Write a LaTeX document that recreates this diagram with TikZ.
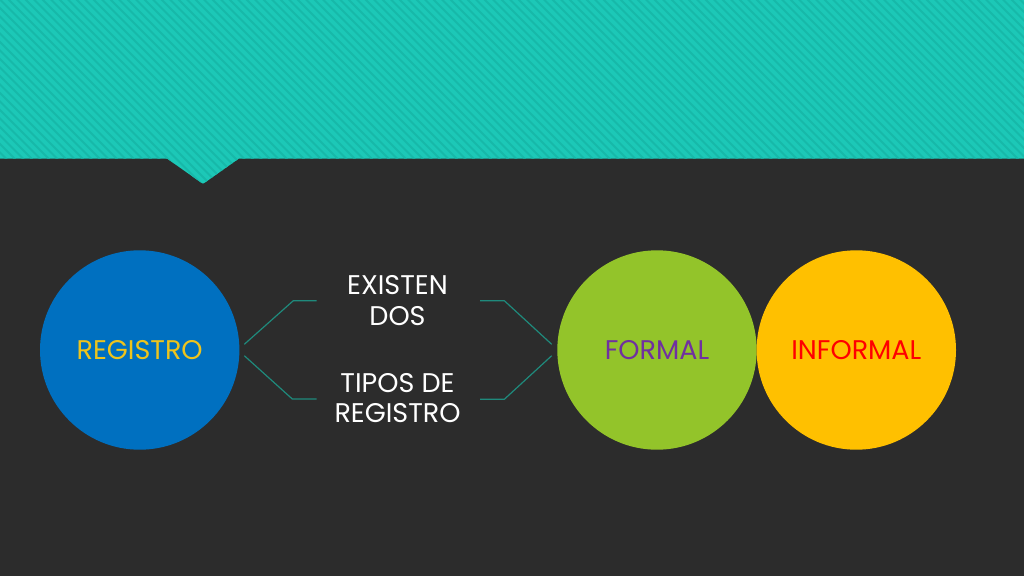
\documentclass[tikz,border=0pt]{standalone}
\usepackage{fontspec}
\setmainfont{Poppins}
\definecolor{bgc}{HTML}{2C2C2C}
\definecolor{tealL}{HTML}{1CC8B7}
\definecolor{tealD}{HTML}{17B9A9}
\definecolor{linec}{HTML}{1F8A7C}
\definecolor{blueC}{HTML}{0070C0}
\definecolor{greenC}{HTML}{93C42A}
\definecolor{yellowC}{HTML}{FFC000}
\definecolor{goldT}{HTML}{EEC41C}
\definecolor{purpT}{HTML}{7030A0}
\definecolor{redT}{HTML}{FF0000}
\begin{document}
\begin{tikzpicture}[x=1pt,y=-1pt,
  bubble/.style={circle,minimum size=199.4pt,inner sep=0pt,font=\fontsize{27}{30}\selectfont},
  midtext/.style={align=center,text=white,font=\fontsize{27}{30.7}\selectfont},
  conn/.style={draw=linec,line width=1.2pt}]
\useasboundingbox (0,0) rectangle (1024,576);
\fill[bgc] (0,0) rectangle (1024,576);
% top band with pointer
\begin{scope}
\clip (0,0) -- (1024,0) -- (1024,158.5) -- (239,158.5) -- (205,182.5) -- (203,183.5) -- (201,182.5) -- (167,158.5) -- (0,158.5) -- cycle;
\fill[tealL] (-5,-5) rectangle (1030,190);
\foreach \k in {-200,-191.5,...,1030}{
  \draw[tealD,line width=2pt] (\k,-5) -- (\k+195,190);
}
\end{scope}
% circles
\node[bubble,fill=blueC,text=goldT] (reg) at (139.7,350) {REGISTRO};
\node[bubble,fill=greenC,text=purpT] (formal) at (657,350) {FORMAL};
\node[bubble,fill=yellowC,text=redT] (informal) at (856.3,350) {INFORMAL};
% middle texts
\node[midtext] (t1) at (397.5,300.5) {EXISTEN\\DOS};
\node[midtext] (t2) at (397.5,398) {TIPOS DE\\REGISTRO};
% connector points
\coordinate (a1) at (244.3,344.3);
\coordinate (a2) at (293.3,300.7);
\coordinate (a3) at (316.7,300.7);
\coordinate (b1) at (244.3,355.7);
\coordinate (b2) at (292.3,399);
\coordinate (b3) at (316.7,399);
\coordinate (c1) at (480,300.7);
\coordinate (c2) at (504.3,300.7);
\coordinate (c3) at (551.7,344.3);
\coordinate (d1) at (480,399.3);
\coordinate (d2) at (504.3,399.3);
\coordinate (d3) at (551.7,355.7);
\draw[conn] (a1) -- (a2) -- (a3);
\draw[conn] (b1) -- (b2) -- (b3);
\draw[conn] (c1) -- (c2) -- (c3);
\draw[conn] (d1) -- (d2) -- (d3);
\end{tikzpicture}
\end{document}
